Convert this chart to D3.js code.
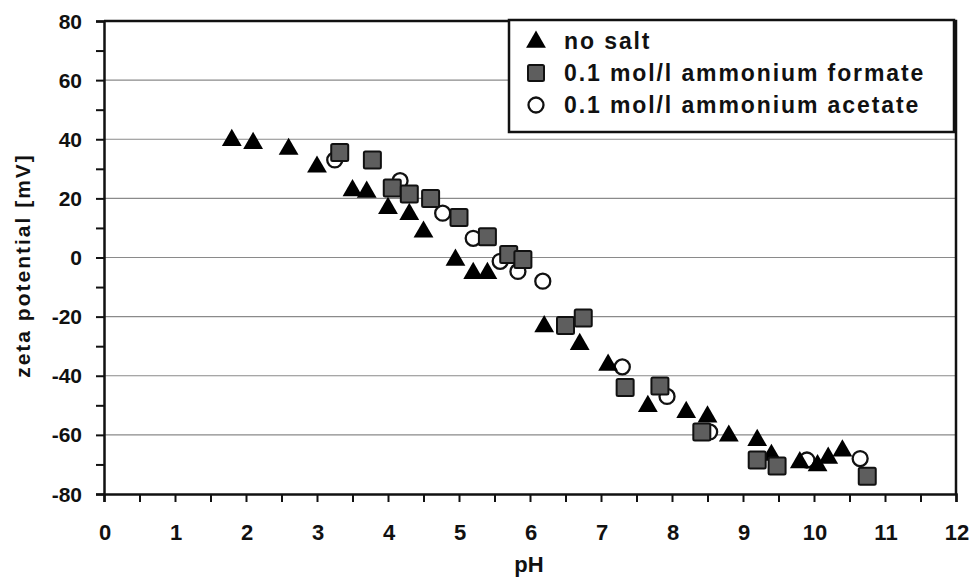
<!DOCTYPE html>
<html>
<head>
<meta charset="utf-8">
<script src="https://cdn.jsdelivr.net/npm/d3@7"></script>
<style>
  body { margin: 0; background: #fff; }
  text { font-family: "Liberation Sans", Arial, sans-serif; font-weight: bold; fill: #111; }
</style>
</head>
<body>
<div id="container"></div>
<script>
/**
 * CONSTANTS AND GLOBALS
 * */
const width = 972,
  height = 580,
  margin = {top: 21, bottom: 86, left: 104, right: 16};

// no salt (triangles)
const noSaltPH   = [1.8, 2.1, 2.6, 3.0, 3.5, 3.7, 4.0, 4.3, 4.5, 4.95, 5.2, 5.4, 6.2, 6.7, 7.1, 7.66, 8.2, 8.5, 8.8, 9.2, 9.4, 9.8, 10.05, 10.2, 10.4];
const noSaltZeta = [40, 39, 37, 31, 23, 22.5, 17, 15, 9, -0.5, -5, -5, -23, -29, -36, -50, -52, -53.5, -60, -61.5, -66.5, -69, -70, -67.5, -65];

// 0.1 mol/l ammonium formate (grey squares)
const formatePH   = [3.32, 3.78, 4.06, 4.3, 4.6, 5.0, 5.4, 5.7, 5.9, 6.5, 6.75, 7.34, 7.83, 8.42, 9.2, 9.48, 10.75];
const formateZeta = [35.5, 33, 23.5, 21.5, 20, 13.5, 7, 1, -0.7, -23, -20.5, -44, -43.5, -59, -68.5, -70.5, -74];

// 0.1 mol/l ammonium acetate (open circles)
const acetatePH   = [3.25, 4.17, 4.77, 5.2, 5.58, 5.83, 6.18, 7.3, 7.93, 8.53, 9.9, 10.65];
const acetateZeta = [33, 26, 15, 6.5, -1.3, -4.7, -8, -37, -47, -59, -68.5, -68];

const legendLabels = ["no salt", "0.1 mol/l ammonium formate", "0.1 mol/l ammonium acetate"];
const xTicks = d3.range(0, 13, 1);
const yTicks = d3.range(-80, 81, 20);

/**
 * INITIALIZING FUNCTION
 * */
function init() {
  const svg = d3.select("#container")
    .append("svg")
    .attr("width", width)
    .attr("height", height);

  const x = d3.scaleLinear()
    .domain([0, 12])
    .range([margin.left, width - margin.right]);

  const y = d3.scaleLinear()
    .domain([-80, 80])
    .range([height - margin.bottom, margin.top]);

  // grid lines
  svg.append("g")
    .selectAll("line")
    .data(yTicks.filter(d => d > -80 && d < 80))
    .join("line")
    .attr("x1", x(0)).attr("x2", x(12))
    .attr("y1", d => y(d)).attr("y2", d => y(d))
    .attr("stroke", "#8a8a8a")
    .attr("stroke-width", 1.2);

  // frame: top and right
  svg.append("path")
    .attr("d", `M${x(0)},${y(80)}H${x(12)}V${y(-80)}`)
    .attr("fill", "none")
    .attr("stroke", "#111")
    .attr("stroke-width", 2.5);

  // x axis
  const xAxis = svg.append("g")
    .attr("transform", `translate(0,${y(-80)})`)
    .call(d3.axisBottom(x).tickValues(d3.range(0, 12.01, 0.5)).tickSize(8).tickFormat(""));
  xAxis.select(".domain").attr("stroke", "#111").attr("stroke-width", 2.5);
  xAxis.selectAll(".tick line").attr("stroke", "#111").attr("stroke-width", 2);

  svg.append("g")
    .selectAll("text")
    .data(xTicks)
    .join("text")
    .attr("x", d => x(d) + 1)
    .attr("y", 540)
    .attr("text-anchor", "middle")
    .style("font-size", "22px")
    .text(d => d);

  // y axis
  const yAxis = svg.append("g")
    .attr("transform", `translate(${x(0)},0)`)
    .call(d3.axisLeft(y).tickValues(d3.range(-80, 80.1, 10)).tickSize(8).tickFormat(""));
  yAxis.select(".domain").attr("stroke", "#111").attr("stroke-width", 2.5);
  yAxis.selectAll(".tick line").attr("stroke", "#111").attr("stroke-width", 2);

  svg.append("g")
    .selectAll("text")
    .data(yTicks)
    .join("text")
    .attr("x", x(0) - 22)
    .attr("y", d => y(d) + 7.5)
    .attr("text-anchor", "end")
    .style("font-size", "21px")
    .text(d => d);

  // axis titles
  svg.append("text")
    .attr("x", 529)
    .attr("y", 572)
    .attr("text-anchor", "middle")
    .style("font-size", "22px")
    .text("pH");

  svg.append("text")
    .attr("transform", `translate(30,${y(0) + 8}) rotate(-90)`)
    .attr("text-anchor", "middle")
    .style("font-size", "21px")
    .style("letter-spacing", "2px")
    .text("zeta potential [mV]");

  const tri = d3.symbol().type(d3.symbolTriangle).size(170);

  // acetate circles (drawn first, they sit underneath)
  svg.append("g")
    .selectAll("circle")
    .data(d3.zip(acetatePH, acetateZeta))
    .join("circle")
    .attr("cx", d => x(d[0]))
    .attr("cy", d => y(d[1]))
    .attr("r", 7.5)
    .attr("fill", "#fff")
    .attr("stroke", "#111")
    .attr("stroke-width", 2.3);

  // no salt triangles
  svg.append("g")
    .selectAll("path")
    .data(d3.zip(noSaltPH, noSaltZeta))
    .join("path")
    .attr("d", tri)
    .attr("transform", d => `translate(${x(d[0])},${y(d[1]) + 1})`)
    .attr("fill", "#000");

  // formate squares
  svg.append("g")
    .selectAll("rect")
    .data(d3.zip(formatePH, formateZeta))
    .join("rect")
    .attr("x", d => x(d[0]) - 8.5)
    .attr("y", d => y(d[1]) - 8.5)
    .attr("width", 17)
    .attr("height", 17)
    .attr("rx", 1.5)
    .attr("fill", "#5e5e5e")
    .attr("stroke", "#111")
    .attr("stroke-width", 2);

  // legend
  const lg = svg.append("g");
  lg.append("rect")
    .attr("x", 509).attr("y", 20)
    .attr("width", 445).attr("height", 112)
    .attr("fill", "#fff")
    .attr("stroke", "#111")
    .attr("stroke-width", 2.5);

  const ly = [41, 73, 105];
  lg.append("path").attr("d", tri).attr("transform", `translate(536,${ly[0] + 1})`).attr("fill", "#000");
  lg.append("rect").attr("x", 528).attr("y", ly[1] - 8).attr("width", 16).attr("height", 16)
    .attr("rx", 1.5).attr("fill", "#5e5e5e").attr("stroke", "#111").attr("stroke-width", 2);
  lg.append("circle").attr("cx", 536).attr("cy", ly[2]).attr("r", 7.5)
    .attr("fill", "#fff").attr("stroke", "#111").attr("stroke-width", 2.3);

  lg.selectAll("text.lab")
    .data(legendLabels)
    .join("text")
    .attr("class", "lab")
    .attr("x", 564)
    .attr("y", (d, i) => ly[i] + 8)
    .style("font-size", "23px")
    .style("letter-spacing", "1.9px")
    .text(d => d);
}

init();
</script>
</body>
</html>
